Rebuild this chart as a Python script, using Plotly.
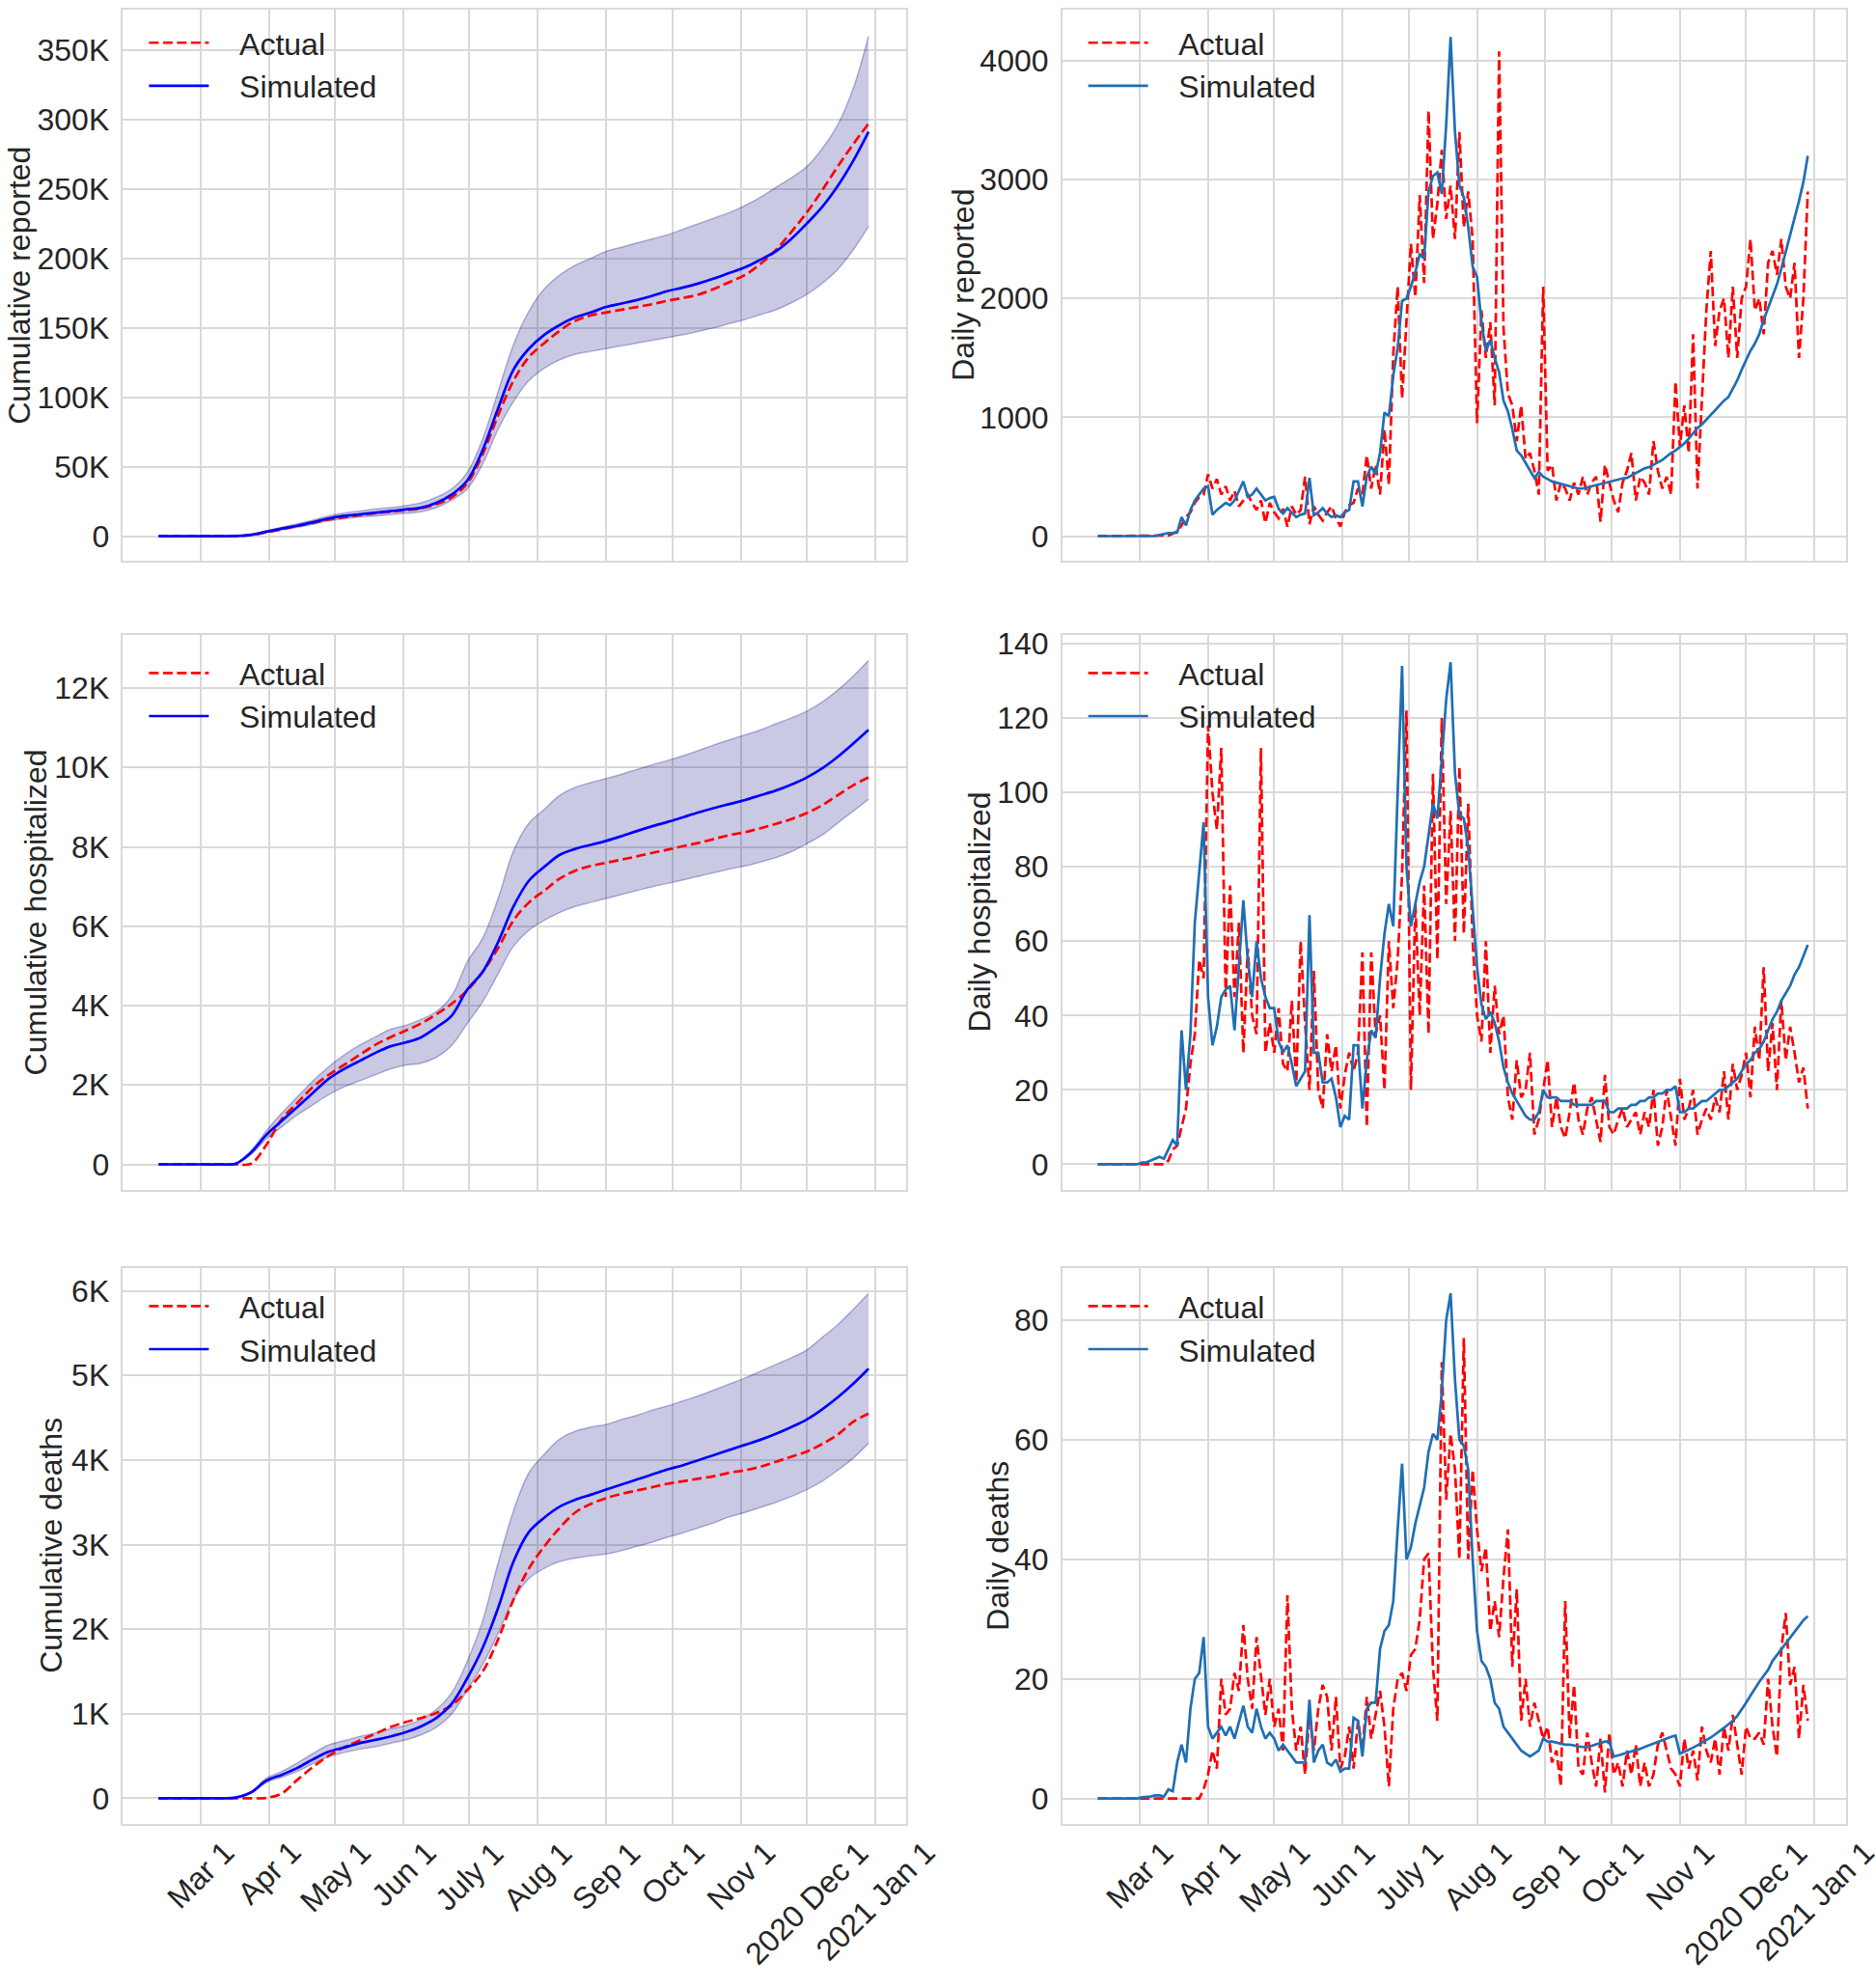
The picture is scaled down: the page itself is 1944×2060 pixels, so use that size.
"""Actual vs simulated COVID-19 series: cumulative (with band) and daily panels."""
import pandas as pd
import plotly.graph_objects as go

START = "2020-02-11"

# ---- daily series, one value every 2 days starting Feb 11 -----------------
rep_daily_actual = [
    0, 0, 0, 0, 0, 0, 0, 0, 0, 0,
    0, 0, 0, 0, 0, 0, 5, 20, 40, 90,
    160, 200, 280, 330, 350, 520, 400, 480, 350, 420,
    300, 380, 250, 300, 350, 280, 220, 300, 110, 280,
    200, 150, 230, 80, 250, 180, 220, 500, 100, 250,
    180, 130, 200, 250, 150, 80, 200, 260, 280, 400,
    350, 680, 400, 600, 350, 900, 430, 1530, 2100, 1160,
    1860, 2460, 2010, 2870, 2130, 3580, 2500, 2800, 3250, 2670,
    2950, 2500, 3400, 2600, 2900, 2500, 950, 1900, 1500, 1800,
    1100, 4080, 1750, 1200, 1100, 800, 1100, 650, 700, 550,
    350, 2100, 550, 600, 300, 450, 400, 300, 450, 350,
    500, 350, 450, 500, 120, 600, 450, 300, 200, 450,
    550, 700, 300, 500, 450, 350, 800, 550, 400, 500,
    350, 1300, 750, 1100, 700, 1700, 400, 1200, 1900, 2400,
    1600, 1900, 2000, 1500, 2100, 1500, 2000, 2100, 2500, 1900,
    2000, 1700, 2300, 2400, 2200, 2500, 2100, 2000, 2300, 1500,
    2000, 2900,
]
rep_daily_sim = [
    0, 0, 0, 0, 0, 0, 0, 0, 0, 0,
    0, 0, 0, 0, 10, 20, 25, 25, 30, 160,
    90, 220, 300, 350, 400, 420, 180, 220, 250, 280,
    260, 300, 380, 460, 330, 350, 400, 350, 300, 320,
    330, 230, 190, 235, 200, 160, 180, 190, 490, 175,
    200, 235, 190, 160, 175, 160, 200, 220, 460, 460,
    250, 500, 585, 520, 700, 1040, 1010, 1350, 1585, 1980,
    2000, 2100, 2220, 2370, 2340, 2900, 3030, 3060, 2880, 3460,
    4200, 3400, 2950, 2850, 2600, 2270, 2180, 1800, 1560, 1650,
    1500, 1380, 1140, 1050, 900, 720, 680, 620, 550, 490,
    540, 500, 480, 460, 450, 440, 430, 420, 410, 400,
    400, 410, 420, 430, 440, 450, 460, 465, 475, 485,
    490, 510, 530, 550, 570, 580, 600, 620, 640, 670,
    700, 720, 750, 780, 820, 870, 910, 940, 980, 1020,
    1060, 1100, 1140, 1170, 1240, 1310, 1400, 1480, 1560, 1620,
    1700, 1820, 1920, 2030, 2120, 2250, 2390, 2530, 2680, 2820,
    2980, 3200,
]
hosp_daily_actual = [
    0, 0, 0, 0, 0, 0, 0, 0, 0, 0,
    0, 0, 0, 0, 0, 0, 1, 4, 5, 10,
    15, 27, 35, 55, 50, 118, 100, 90, 112, 45,
    75, 45, 65, 30, 58, 40, 35, 112, 30, 38,
    30, 42, 27, 25, 44, 22, 60, 38, 20, 52,
    20, 15, 35, 25, 32, 15, 24, 30, 25, 30,
    57, 10, 57, 35, 40, 20, 60, 42, 55, 78,
    122, 20, 70, 40, 75, 35, 105, 55, 120, 70,
    95, 60, 107, 62, 97, 60, 40, 33, 60, 30,
    48, 35, 40, 18, 12, 28, 18, 20, 30, 8,
    12, 20, 28, 10, 18, 10, 7, 14, 22, 12,
    8, 15, 18, 12, 6, 24, 10, 8, 12, 15,
    10, 12, 14, 8, 14, 10, 20, 5, 10, 20,
    12, 5, 23, 12, 15, 20, 8, 12, 15, 12,
    18, 14, 25, 12, 27, 20, 24, 30, 18, 37,
    28, 53, 25, 38, 20, 44, 28, 37, 30, 22,
    26, 15,
]
hosp_daily_sim = [
    0, 0, 0, 0, 0, 0, 0, 0, 0, 0,
    0.5, 0.5, 1, 1.5, 2, 1.5, 4, 6.5, 5, 36,
    20, 35, 65, 79, 92, 45, 32, 37, 45, 47,
    48, 36, 55, 71, 55, 45, 60, 50, 45, 42,
    42, 33, 30, 32, 27, 21, 23, 25, 67, 30,
    30, 22, 22, 23, 18, 10, 13, 12, 32, 32,
    15, 28, 36, 34, 50, 62, 70, 64, 100, 134,
    80, 64, 70, 76, 80, 88, 97, 93, 110, 125,
    135, 105, 94, 93, 85, 70, 53, 43, 39, 41,
    38, 33, 26, 22, 19, 17, 15, 13, 12, 12,
    14, 20, 18, 18, 18, 17, 17, 17, 16, 16,
    16, 16, 16, 17, 17, 17, 14, 14, 15, 15,
    15, 16, 16, 17, 17, 18, 18, 19, 19, 20,
    20, 21, 14, 14, 15, 15, 16, 17, 17, 18,
    19, 20, 20, 21, 22, 23, 25, 27, 28, 30,
    31, 33, 36, 39, 41, 44, 46, 48, 51, 53,
    56, 59,
]
death_daily_actual = [
    0, 0, 0, 0, 0, 0, 0, 0, 0, 0,
    0, 0, 0, 0, 0, 0, 0, 0, 0, 0,
    0, 0, 0, 0, 1.5, 4, 8, 5, 20, 14,
    15, 21, 18, 29, 20, 15, 27, 20, 14, 20,
    12, 15, 8, 34, 15, 8, 12, 4, 14, 8,
    15, 19, 17, 8, 17, 5, 7, 12, 5, 13,
    8, 17, 10, 14, 18, 12, 2, 15, 20, 21,
    18, 24, 25, 30, 40, 41, 22, 13, 73, 50,
    61, 55, 40, 77, 40, 55, 45, 38, 42, 28,
    33, 27, 37, 45, 22, 35, 13, 20, 12, 16,
    13, 10, 12, 6, 8, 2, 33, 10, 19, 5,
    4, 11, 6, 2, 10, 1, 11, 4, 6, 2,
    8, 4, 9, 2, 6, 2, 4, 9, 11, 8,
    5, 4, 2, 10, 5, 8, 3, 12, 8, 6,
    10, 4, 12, 8, 14, 9, 4, 12, 10, 10,
    11, 9, 20, 12, 7, 25, 31, 19, 22, 10,
    19, 13,
]
death_daily_sim = [
    0, 0, 0, 0, 0, 0, 0, 0, 0, 0,
    0.2, 0.2, 0.3, 0.5, 0.5, 0.3, 1.5, 1.2, 6, 9,
    6, 15, 20, 21, 27, 12, 10, 11, 12, 10.5,
    12, 10, 13, 15.5, 12, 11, 15, 12, 10, 11,
    10, 8, 9, 8, 7, 6, 6, 6, 16.5, 6,
    8, 9, 6, 5.5, 6.5, 4.5, 5, 5, 13.5, 13,
    7, 15, 16, 16, 25, 28, 29, 33, 45, 56,
    40, 42, 46, 49, 52, 58, 61, 60, 68, 80,
    84.5, 70, 60, 59, 55, 40, 28, 23, 22, 20,
    16, 15, 12, 11, 10, 9, 8, 7.5, 7, 7.5,
    8, 10, 9.5, 9.5, 9.3, 9.2, 9, 9, 8.8, 8.7,
    8.6, 8.6, 8.8, 9, 9.2, 9.5, 9.5, 7, 7.2, 7.4,
    7.6, 7.8, 8, 8.3, 8.6, 8.9, 9.2, 9.5, 9.8, 10.1,
    10.3, 10.5, 7.5, 7.8, 8.1, 8.5, 8.9, 9.3, 9.7, 10.2,
    10.7, 11.2, 11.8, 12.4, 13, 13.8, 14.8, 16, 17.2, 18.4,
    19.5, 20.5, 21.5, 23, 24, 25, 26, 27, 28, 29,
    29.8, 30.5,
]

# ---- cumulative series in thousands, one value per week from Feb 11 -------
rep_cum_actual = [
    0, 0, 0, 0, 0, 0.1, 0.8, 2.8, 5, 7.5,
    9.5, 12, 13.5, 15, 16.5, 17.5, 18.7, 20, 23, 28,
    38, 59, 87, 112, 129, 139, 148, 155, 159, 161,
    163, 165, 167, 169.5, 171.5, 174, 178, 183, 188, 196,
    206, 219, 233, 249, 266, 282, 297,
]
rep_cum_sim = [
    0, 0, 0, 0, 0, 0.1, 1, 3.3, 5.5, 7.5,
    10, 12.7, 14.5, 15.7, 16.8, 18, 19.2, 20.5, 24, 30,
    40, 62, 92, 120, 135, 145, 152, 157.5, 161, 165,
    167.5, 170, 173, 176.5, 179, 182, 185.5, 189.5, 193.5, 199,
    205, 214, 225, 237, 252, 270, 291,
]
rep_cum_upper = [
    0, 0, 0, 0, 0, 0.1, 1.2, 4, 6.5, 9,
    11.5, 14.5, 16.5, 18, 19.5, 20.5, 22, 24, 28, 34,
    46, 70, 104, 138, 162, 178, 188, 195, 200, 205,
    208, 211, 214, 217, 221, 225, 229, 233, 238, 244,
    251, 258, 266, 279, 296, 322, 360,
]
rep_cum_lower = [
    0, 0, 0, 0, 0, 0.1, 0.8, 2.7, 4.5, 6.3,
    8.5, 11, 12.5, 13.7, 14.5, 15.5, 16.5, 17.5, 20.5, 26,
    34, 52, 77, 97, 112, 121, 127, 131, 133, 135,
    137, 139, 141, 143, 145, 147.5, 150, 153, 156, 159.5,
    163, 168, 174, 182, 192, 206, 223,
]
hosp_cum_actual = [
    0, 0, 0, 0, 0, 0, 0.02, 0.5, 1.15, 1.55,
    1.95, 2.25, 2.5, 2.75, 3.0, 3.2, 3.37, 3.55, 3.78, 4.05,
    4.38, 4.85, 5.45, 6.15, 6.6, 6.9, 7.2, 7.4, 7.52, 7.6,
    7.68, 7.76, 7.85, 7.93, 8.02, 8.1, 8.2, 8.3, 8.37, 8.47,
    8.58, 8.7, 8.85, 9.05, 9.3, 9.55, 9.75,
]
hosp_cum_sim = [
    0, 0, 0, 0, 0, 0.02, 0.3, 0.75, 1.1, 1.45,
    1.8, 2.15, 2.4, 2.6, 2.8, 2.97, 3.07, 3.2, 3.45, 3.75,
    4.4, 4.85, 5.6, 6.5, 7.15, 7.5, 7.8, 7.95, 8.05, 8.15,
    8.27, 8.4, 8.52, 8.63, 8.75, 8.87, 8.98, 9.08, 9.18, 9.3,
    9.42, 9.57, 9.75, 9.98, 10.27, 10.6, 10.95,
]
hosp_cum_upper = [
    0, 0, 0, 0, 0, 0.02, 0.35, 0.85, 1.3, 1.7,
    2.1, 2.45, 2.75, 3.0, 3.2, 3.4, 3.5, 3.65, 3.85, 4.25,
    5.1, 5.7, 6.7, 7.9, 8.6, 8.95, 9.3, 9.5, 9.62, 9.72,
    9.83, 9.95, 10.07, 10.18, 10.3, 10.43, 10.57, 10.7, 10.82, 10.95,
    11.1, 11.25, 11.42, 11.65, 11.95, 12.3, 12.7,
]
hosp_cum_lower = [
    0, 0, 0, 0, 0, 0.02, 0.25, 0.65, 0.95, 1.25,
    1.5, 1.75, 1.95, 2.1, 2.25, 2.4, 2.5, 2.55, 2.7, 3.0,
    3.55, 4.1, 4.8, 5.5, 5.9, 6.15, 6.35, 6.5, 6.6, 6.7,
    6.8, 6.9, 7.0, 7.08, 7.17, 7.26, 7.35, 7.44, 7.52, 7.62,
    7.73, 7.88, 8.08, 8.3, 8.6, 8.9, 9.2,
]
death_cum_actual = [
    0, 0, 0, 0, 0, 0, 0, 0.005, 0.06, 0.22,
    0.37, 0.5, 0.6, 0.68, 0.76, 0.84, 0.9, 0.95, 1.01, 1.1,
    1.28, 1.5, 1.88, 2.35, 2.72, 2.98, 3.2, 3.38, 3.48, 3.55,
    3.6, 3.64, 3.68, 3.72, 3.75, 3.78, 3.81, 3.85, 3.88, 3.92,
    3.98, 4.04, 4.1, 4.19, 4.3, 4.45, 4.55,
]
death_cum_sim = [
    0, 0, 0, 0, 0, 0.01, 0.07, 0.21, 0.28, 0.36,
    0.46, 0.55, 0.6, 0.65, 0.69, 0.73, 0.78, 0.85, 0.95, 1.12,
    1.42, 1.78, 2.25, 2.8, 3.15, 3.32, 3.45, 3.53, 3.59, 3.65,
    3.71, 3.77, 3.83, 3.89, 3.94, 4.0, 4.06, 4.12, 4.18, 4.24,
    4.31, 4.39, 4.48, 4.6, 4.74, 4.9, 5.08,
]
death_cum_upper = [
    0, 0, 0, 0, 0, 0.01, 0.08, 0.24, 0.32, 0.42,
    0.53, 0.63, 0.68, 0.73, 0.77, 0.82, 0.86, 0.93, 1.05, 1.25,
    1.62, 2.1, 2.78, 3.4, 3.85, 4.07, 4.25, 4.34, 4.39, 4.42,
    4.48, 4.53, 4.59, 4.64, 4.7, 4.76, 4.83, 4.9, 4.97, 5.05,
    5.13, 5.21, 5.3, 5.45, 5.6, 5.78, 5.97,
]
death_cum_lower = [
    0, 0, 0, 0, 0, 0.01, 0.06, 0.19, 0.25, 0.32,
    0.41, 0.49, 0.54, 0.58, 0.61, 0.65, 0.69, 0.75, 0.84, 1.0,
    1.28, 1.58, 1.95, 2.35, 2.6, 2.72, 2.8, 2.84, 2.87, 2.89,
    2.93, 2.98, 3.03, 3.09, 3.14, 3.2, 3.26, 3.33, 3.38, 3.44,
    3.5, 3.57, 3.65, 3.75, 3.88, 4.02, 4.2,
]

# ---- axis ticks ------------------------------------------------------------
month_ticks = ["2020-03-01", "2020-04-01", "2020-05-01", "2020-06-01",
               "2020-07-01", "2020-08-01", "2020-09-01", "2020-10-01",
               "2020-11-01", "2020-12-01", "2021-01-01"]
month_labels = ["Mar 1", "Apr 1", "May 1", "Jun 1", "July 1", "Aug 1",
                "Sep 1", "Oct 1", "Nov 1", "2020 Dec 1", "2021 Jan 1"]
rep_cum_ticks = [0, 50, 100, 150, 200, 250, 300, 350]
hosp_cum_ticks = [0, 2, 4, 6, 8, 10, 12]
death_cum_ticks = [0, 1, 2, 3, 4, 5, 6]
rep_daily_ticks = [0, 1000, 2000, 3000, 4000]
hosp_daily_ticks = [0, 20, 40, 60, 80, 100, 120, 140]
death_daily_ticks = [0, 20, 40, 60, 80]

# ---- style -----------------------------------------------------------------
W, H = 1944, 2060
FONT = "Liberation Sans, Arial, Helvetica, sans-serif"
TEXT = "#262626"
GRID = "#d9d9d9"
RED = "#ff0000"
BLUE_CUM = "#0000ff"
BLUE_DAILY = "#1f6fb4"
BAND_FILL = "rgba(0, 0, 128, 0.21)"
BAND_EDGE = "rgba(0, 0, 128, 0.28)"
DASH = "10px,4.5px"
FS = 32
PAD = "\u00a0\u00a0\u00a0"  # gap between legend line sample and label
X_RANGE = ["2020-01-25 20:24", "2021-01-15 03:36"]

# panel frames in pixels (left, right, top, bottom) and legend offsets
COLS = [(127.4, 939.2), (1100.7, 1912.5)]
ROWS = [(1.0, 575.0), (652.0, 1229.0), (1310.9, 1888.8)]
LEGEND_DY = [7, 12, 12]

daily_dates = pd.date_range(START, periods=len(rep_daily_actual), freq="2D")
weekly_dates = pd.date_range(START, periods=len(rep_cum_actual), freq="7D")

fig = go.Figure()


def suffix(n):
    return "" if n == 1 else str(n)


def add_cumulative(n, actual, sim, lower, upper):
    s = suffix(n)
    common = dict(x=weekly_dates, xaxis="x" + s, yaxis="y" + s, mode="lines",
                  hoverinfo="skip")
    fig.add_trace(go.Scatter(y=[v * 1000 for v in lower], showlegend=False,
                             line=dict(color=BAND_EDGE, width=1.5, shape="spline"),
                             **common))
    fig.add_trace(go.Scatter(y=[v * 1000 for v in upper], showlegend=False,
                             fill="tonexty", fillcolor=BAND_FILL,
                             line=dict(color=BAND_EDGE, width=1.5, shape="spline"),
                             **common))
    fig.add_trace(go.Scatter(y=[v * 1000 for v in actual], name=PAD + "Actual",
                             legend="legend" + s,
                             line=dict(color=RED, width=2.7, dash=DASH, shape="spline"),
                             **common))
    fig.add_trace(go.Scatter(y=[v * 1000 for v in sim], name=PAD + "Simulated",
                             legend="legend" + s,
                             line=dict(color=BLUE_CUM, width=2.7, shape="spline"),
                             **common))


def add_daily(n, actual, sim):
    s = suffix(n)
    common = dict(x=daily_dates, xaxis="x" + s, yaxis="y" + s, mode="lines",
                  legend="legend" + s, hoverinfo="skip")
    fig.add_trace(go.Scatter(y=actual, name=PAD + "Actual",
                             line=dict(color=RED, width=2.7, dash=DASH), **common))
    fig.add_trace(go.Scatter(y=sim, name=PAD + "Simulated",
                             line=dict(color=BLUE_DAILY, width=2.7), **common))


add_cumulative(1, rep_cum_actual, rep_cum_sim, rep_cum_lower, rep_cum_upper)
add_daily(2, rep_daily_actual, rep_daily_sim)
add_cumulative(3, hosp_cum_actual, hosp_cum_sim, hosp_cum_lower, hosp_cum_upper)
add_daily(4, hosp_daily_actual, hosp_daily_sim)
add_cumulative(5, death_cum_actual, death_cum_sim, death_cum_lower, death_cum_upper)
add_daily(6, death_daily_actual, death_daily_sim)

panels = [
    # n, row, col, y range, tick values, tick text, y title, title x (px)
    (1, 0, 0, [-18000, 379000], [v * 1000 for v in rep_cum_ticks],
     ["0"] + [f"{v}K" for v in rep_cum_ticks[1:]], "Cumulative reported", 20),
    (2, 0, 1, [-211, 4431], rep_daily_ticks, [str(v) for v in rep_daily_ticks],
     "Daily reported", 998),
    (3, 1, 0, [-635, 13335], [v * 1000 for v in hosp_cum_ticks],
     ["0"] + [f"{v}K" for v in hosp_cum_ticks[1:]], "Cumulative hospitalized", 37),
    (4, 1, 1, [-6.8, 142.3], hosp_daily_ticks, [str(v) for v in hosp_daily_ticks],
     "Daily hospitalized", 1015),
    (5, 2, 0, [-298, 6268], [v * 1000 for v in death_cum_ticks],
     ["0"] + [f"{v}K" for v in death_cum_ticks[1:]], "Cumulative deaths", 53),
    (6, 2, 1, [-4.2, 88.7], death_daily_ticks, [str(v) for v in death_daily_ticks],
     "Daily deaths", 1034),
]

layout = dict(
    width=W, height=H, margin=dict(l=0, r=0, t=0, b=0),
    paper_bgcolor="white", plot_bgcolor="white",
    font=dict(family=FONT, size=FS, color=TEXT),
    annotations=[],
)
for n, row, col, yrange, tvals, ttext, ytitle, title_px in panels:
    s = suffix(n)
    x0, x1 = COLS[col]
    top, bottom = ROWS[row]
    layout["xaxis" + s] = dict(
        type="date", range=X_RANGE, domain=[x0 / W, x1 / W], anchor="y" + s,
        tickvals=month_ticks, showticklabels=False, ticks="",
        showgrid=True, gridcolor=GRID, gridwidth=1.5, zeroline=False,
        showline=True, linecolor=GRID, linewidth=1.5, mirror=True)
    layout["yaxis" + s] = dict(
        range=yrange, domain=[1 - bottom / H, 1 - top / H], anchor="x" + s,
        tickvals=tvals, ticktext=ttext, ticks="", ticklabelstandoff=6,
        tickfont=dict(size=FS, color=TEXT, family=FONT),
        showgrid=True, gridcolor=GRID, gridwidth=1.5, zeroline=False,
        showline=True, linecolor=GRID, linewidth=1.5, mirror=True)
    layout["legend" + s] = dict(
        x=(x0 + 22) / W, y=1 - (top + LEGEND_DY[row]) / H,
        xanchor="left", yanchor="top",
        traceorder="normal", bgcolor="rgba(0,0,0,0)", borderwidth=0,
        itemwidth=62, font=dict(size=FS, color=TEXT, family=FONT),
        tracegroupgap=0)
    layout["annotations"].append(dict(
        text=ytitle, textangle=-90, xref="paper", yref="paper",
        x=title_px / W, y=1 - (top + bottom) / 2 / H,
        xanchor="center", yanchor="middle", showarrow=False,
        font=dict(size=FS, color=TEXT, family=FONT)))
    if row == 2:
        for tick, label in zip(month_ticks, month_labels):
            layout["annotations"].append(dict(
                text=label, textangle=-45, xref="x" + s, yref="paper",
                x=tick, y=1 - (bottom + 9) / H, xanchor="center", yanchor="top",
                showarrow=False, font=dict(size=FS, color=TEXT, family=FONT)))

fig.update_layout(**layout)
# the page body keeps its default 8px margin otherwise, shifting the figure
fig.write_html("out.html", config={"displayModeBar": False},
               post_script="document.body.style.margin='0';"
                           "document.body.style.overflow='hidden';")
